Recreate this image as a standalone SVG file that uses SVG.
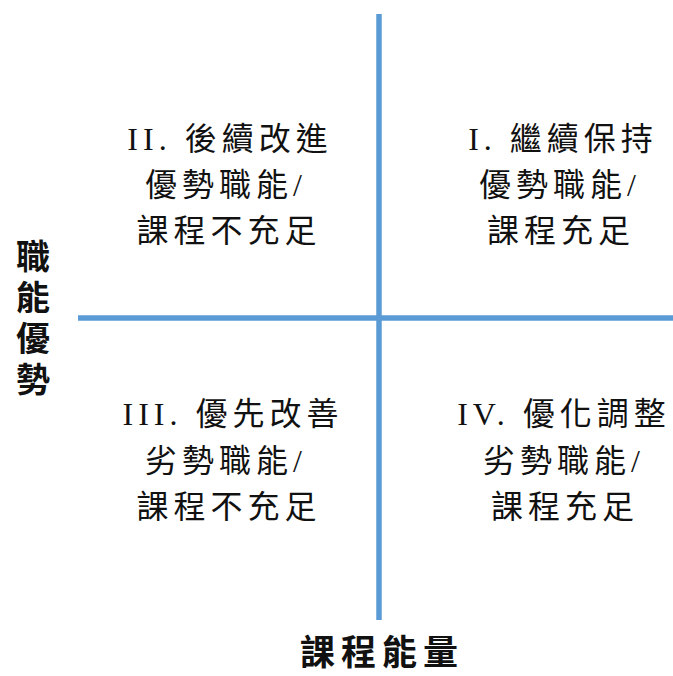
<svg xmlns="http://www.w3.org/2000/svg" width="673" height="676" viewBox="0 0 673 676">
<style>
.t{font-family:"Liberation Serif","Noto Sans CJK TC",serif;font-size:32px;fill:#111;text-anchor:middle;letter-spacing:5px}
.ax{font-family:"Noto Sans CJK TC",sans-serif;font-size:34px;font-weight:bold;fill:#111;text-anchor:middle}
.ln{stroke:#5b9bd5;stroke-width:5.5;fill:none}
</style>
<rect width="673" height="676" fill="#fff"/>
<g id="connectors">
<line class="ln" x1="379" y1="14" x2="379" y2="620"/>
<line class="ln" x1="78" y1="318" x2="673" y2="318"/>
</g>
<g id="q2">
<text class="t" x="230" y="150">II. 後續改進</text>
<text class="t" x="226" y="196">優勢職能/</text>
<text class="t" x="229" y="242">課程不充足</text>
</g>
<g id="q1">
<text class="t" x="563" y="150">I. 繼續保持</text>
<text class="t" x="560" y="196">優勢職能/</text>
<text class="t" x="561" y="242">課程充足</text>
</g>
<g id="q3">
<text class="t" x="233" y="425">III. 優先改善</text>
<text class="t" x="226" y="472">劣勢職能/</text>
<text class="t" x="229" y="518">課程不充足</text>
</g>
<g id="q4">
<text class="t" x="564" y="425">IV. 優化調整</text>
<text class="t" x="564" y="472">劣勢職能/</text>
<text class="t" x="565" y="518">課程充足</text>
</g>
<g id="y-axis">
<text class="ax" x="33" y="321" style="writing-mode:vertical-rl;letter-spacing:7px">職能優勢</text>
</g>
<g id="x-axis">
<text class="ax" x="382" y="665" style="font-size:35px;letter-spacing:6px">課程能量</text>
</g>
</svg>
